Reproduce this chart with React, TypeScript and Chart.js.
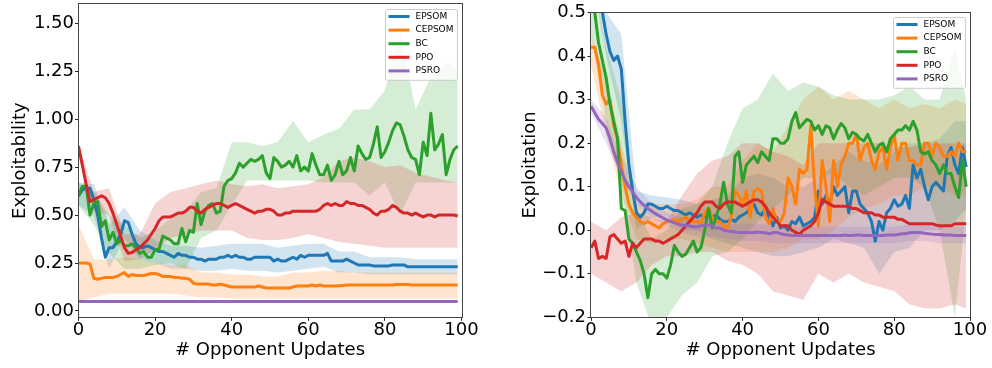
import React, { useEffect, useRef } from "react";
import { Chart, registerables } from "chart.js";

Chart.register(...registerables);

const FONT = "'DejaVu Sans', sans-serif";

const SERIES_NAMES = ["EPSOM", "CEPSOM", "BC", "PPO", "PSRO"];
const SERIES_COLORS = ["#1f77b4", "#ff7f0e", "#2ca02c", "#d62728", "#9467bd"];
const BAND_COLORS = [
  "rgba(31,119,180,0.2)",
  "rgba(255,127,14,0.2)",
  "rgba(44,160,44,0.2)",
  "rgba(214,39,40,0.2)",
  "rgba(148,103,189,0.2)",
];

const UPDATES = Array.from({ length: 100 }, (_, i) => i);
const BAND_X = [0, 4, 8, 12, 16, 20, 24, 28, 32, 36, 40, 44, 48, 52, 56, 60, 64, 68, 72, 76, 80, 84, 88, 92, 96, 99];
const X_TICKS = [0, 20, 40, 60, 80, 100];
const LEFT_Y_TICKS = [0, 0.25, 0.5, 0.75, 1.0, 1.25, 1.5];
const RIGHT_Y_TICKS = [-0.2, -0.1, 0, 0.1, 0.2, 0.3, 0.4, 0.5];

// ---------- Left panel: Exploitability ----------
const EPSOM_L = [
  0.60, 0.63, 0.64, 0.64, 0.58, 0.50, 0.38, 0.28, 0.33, 0.33,
  0.36, 0.40, 0.47, 0.46, 0.40, 0.35, 0.33, 0.33, 0.34, 0.33,
  0.32, 0.31, 0.31, 0.30, 0.29, 0.28, 0.30, 0.29, 0.29, 0.28,
  0.28, 0.27, 0.27, 0.26, 0.27, 0.27, 0.27, 0.28, 0.28, 0.29,
  0.28, 0.29, 0.28, 0.28, 0.27, 0.27, 0.28, 0.28, 0.28, 0.28,
  0.28, 0.26, 0.27, 0.26, 0.26, 0.27, 0.28, 0.27, 0.29, 0.28,
  0.29, 0.29, 0.29, 0.29, 0.29, 0.30, 0.26, 0.26, 0.26, 0.26,
  0.27, 0.26, 0.25, 0.24, 0.24, 0.24, 0.24, 0.235, 0.235, 0.235,
  0.235, 0.235, 0.24, 0.24, 0.24, 0.24, 0.23, 0.23, 0.23, 0.23,
  0.23, 0.23, 0.23, 0.23, 0.23, 0.23, 0.23, 0.23, 0.23, 0.23,
];
const CEPSOM_L = [
  0.25, 0.25, 0.25, 0.245, 0.17, 0.165, 0.17, 0.175, 0.175, 0.175,
  0.18, 0.19, 0.20, 0.18, 0.19, 0.185, 0.185, 0.185, 0.19, 0.195,
  0.195, 0.19, 0.18, 0.18, 0.18, 0.175, 0.175, 0.17, 0.17, 0.165,
  0.145, 0.14, 0.14, 0.14, 0.14, 0.135, 0.135, 0.14, 0.135, 0.13,
  0.125, 0.125, 0.125, 0.125, 0.125, 0.125, 0.125, 0.13, 0.125, 0.12,
  0.12, 0.12, 0.12, 0.12, 0.12, 0.12, 0.125, 0.13, 0.13, 0.13,
  0.13, 0.135, 0.13, 0.135, 0.13, 0.13, 0.13, 0.13, 0.132, 0.133,
  0.135, 0.135, 0.135, 0.135, 0.135, 0.135, 0.135, 0.135, 0.135, 0.135,
  0.135, 0.135, 0.135, 0.138, 0.138, 0.138, 0.138, 0.135, 0.135, 0.135,
  0.135, 0.135, 0.135, 0.135, 0.135, 0.135, 0.135, 0.135, 0.135, 0.135,
];
const BC_L = [
  0.60, 0.65, 0.65, 0.50, 0.56, 0.57, 0.44, 0.47, 0.37, 0.41,
  0.35, 0.37, 0.34, 0.34, 0.35, 0.33, 0.30, 0.31, 0.28, 0.28,
  0.32, 0.32, 0.39, 0.38, 0.37, 0.35, 0.35, 0.43, 0.36, 0.42,
  0.41, 0.56, 0.45, 0.52, 0.55, 0.56, 0.51, 0.52, 0.65, 0.68,
  0.69, 0.72, 0.77, 0.75, 0.77, 0.79, 0.78, 0.79, 0.81, 0.72,
  0.69, 0.80, 0.78, 0.75, 0.76, 0.78, 0.75, 0.81, 0.73, 0.75,
  0.73, 0.82, 0.76, 0.71, 0.71, 0.76, 0.68, 0.71, 0.78, 0.71,
  0.73, 0.80, 0.73, 0.86, 0.82, 0.79, 0.80, 0.87, 0.96, 0.80,
  0.83, 0.88, 0.94, 0.98, 0.97, 0.91, 0.84, 0.80, 0.79, 0.71,
  0.88, 0.81, 1.03, 0.84, 0.87, 0.92, 0.71, 0.79, 0.84, 0.86,
];
const PPO_L = [
  0.86, 0.76, 0.66, 0.57, 0.58, 0.59, 0.60, 0.59, 0.56, 0.51,
  0.45, 0.39, 0.33, 0.30, 0.305, 0.32, 0.33, 0.35, 0.37, 0.40,
  0.43, 0.47, 0.49, 0.49, 0.49, 0.50, 0.51, 0.51, 0.52, 0.54,
  0.54, 0.52, 0.51, 0.53, 0.54, 0.55, 0.56, 0.56, 0.55, 0.54,
  0.55, 0.56, 0.55, 0.54, 0.53, 0.52, 0.51, 0.52, 0.52, 0.53,
  0.53, 0.52, 0.50, 0.50, 0.51, 0.51, 0.52, 0.52, 0.52, 0.52,
  0.52, 0.52, 0.52, 0.53, 0.55, 0.56, 0.55, 0.56, 0.55, 0.55,
  0.57, 0.56, 0.56, 0.55, 0.55, 0.54, 0.53, 0.51, 0.50, 0.52,
  0.52, 0.53, 0.55, 0.54, 0.52, 0.51, 0.51, 0.50, 0.51, 0.50,
  0.49, 0.50, 0.50, 0.49, 0.50, 0.50, 0.50, 0.50, 0.50, 0.495,
];
const PSRO_L = [
  0.05, 0.05, 0.05, 0.05, 0.05, 0.05, 0.05, 0.05, 0.05, 0.05,
  0.05, 0.05, 0.05, 0.05, 0.05, 0.05, 0.05, 0.05, 0.05, 0.05,
  0.05, 0.05, 0.05, 0.05, 0.05, 0.05, 0.05, 0.05, 0.05, 0.05,
  0.05, 0.05, 0.05, 0.05, 0.05, 0.05, 0.05, 0.05, 0.05, 0.05,
  0.05, 0.05, 0.05, 0.05, 0.05, 0.05, 0.05, 0.05, 0.05, 0.05,
  0.05, 0.05, 0.05, 0.05, 0.05, 0.05, 0.05, 0.05, 0.05, 0.05,
  0.05, 0.05, 0.05, 0.05, 0.05, 0.05, 0.05, 0.05, 0.05, 0.05,
  0.05, 0.05, 0.05, 0.05, 0.05, 0.05, 0.05, 0.05, 0.05, 0.05,
  0.05, 0.05, 0.05, 0.05, 0.05, 0.05, 0.05, 0.05, 0.05, 0.05,
  0.05, 0.05, 0.05, 0.05, 0.05, 0.05, 0.05, 0.05, 0.05, 0.05,
];

// bands (lower / upper) at BAND_X
const EPSOM_L_LO = [0.55, 0.50, 0.22, 0.38, 0.27, 0.25, 0.22, 0.22, 0.21, 0.21, 0.22, 0.21, 0.21, 0.20, 0.21, 0.22, 0.23, 0.20, 0.20, 0.19, 0.19, 0.19, 0.19, 0.19, 0.19, 0.19];
const EPSOM_L_HI = [0.67, 0.66, 0.45, 0.54, 0.42, 0.37, 0.34, 0.34, 0.33, 0.34, 0.35, 0.35, 0.35, 0.33, 0.34, 0.35, 0.35, 0.31, 0.31, 0.28, 0.28, 0.28, 0.27, 0.27, 0.27, 0.27];
const CEPSOM_L_LO = [0.05, 0.07, 0.09, 0.09, 0.09, 0.09, 0.09, 0.08, 0.07, 0.07, 0.065, 0.065, 0.065, 0.065, 0.065, 0.065, 0.065, 0.065, 0.065, 0.065, 0.065, 0.065, 0.065, 0.065, 0.065, 0.065];
const CEPSOM_L_HI = [0.45, 0.27, 0.27, 0.28, 0.27, 0.25, 0.24, 0.24, 0.20, 0.20, 0.19, 0.19, 0.18, 0.18, 0.20, 0.20, 0.21, 0.21, 0.20, 0.20, 0.20, 0.20, 0.20, 0.20, 0.20, 0.20];
const BC_L_LO = [0.55, 0.45, 0.30, 0.22, 0.22, 0.24, 0.25, 0.22, 0.38, 0.42, 0.55, 0.68, 0.68, 0.68, 0.68, 0.68, 0.67, 0.67, 0.67, 0.60, 0.67, 0.50, 0.67, 0.67, 0.67, 0.67];
const BC_L_HI = [0.67, 0.62, 0.50, 0.45, 0.38, 0.42, 0.48, 0.52, 0.62, 0.64, 0.88, 0.88, 0.86, 0.88, 0.99, 0.88, 0.92, 0.95, 1.05, 1.05, 1.15, 1.45, 1.05, 1.22, 1.30, 1.25];
const PPO_L_LO = [0.85, 0.52, 0.50, 0.26, 0.27, 0.32, 0.38, 0.40, 0.42, 0.42, 0.42, 0.38, 0.37, 0.37, 0.38, 0.40, 0.38, 0.36, 0.35, 0.34, 0.33, 0.33, 0.33, 0.33, 0.33, 0.33];
const PPO_L_HI = [0.87, 0.62, 0.64, 0.40, 0.40, 0.56, 0.62, 0.64, 0.66, 0.68, 0.66, 0.65, 0.66, 0.64, 0.65, 0.66, 0.70, 0.78, 0.80, 0.78, 0.75, 0.76, 0.72, 0.70, 0.68, 0.67];

// ---------- Right panel: Exploitation ----------
const EPSOM_R = [
  0.62, 0.58, 0.54, 0.50, 0.45, 0.41, 0.39, 0.40, 0.37, 0.25,
  0.15, 0.09, 0.04, 0.03, 0.04, 0.06, 0.06, 0.055, 0.05, 0.05,
  0.055, 0.05, 0.045, 0.045, 0.04, 0.035, 0.04, 0.035, 0.03, 0.035,
  0.03, 0.035, 0.03, 0.035, 0.025, 0.02, 0.02, 0.025, 0.02, 0.03,
  0.035, 0.04, 0.05, 0.06, 0.04, 0.035, 0.05, 0.03, 0.01, 0.03,
  0.005, 0.01, 0.0, 0.02, 0.015, 0.03, 0.01, 0.015, 0.02, 0.03,
  0.09, 0.06, 0.08, 0.06, 0.10, 0.08, 0.09, 0.10, 0.04, 0.09,
  0.09, 0.06, 0.05, 0.04, 0.02, -0.025, 0.02, 0.0, 0.04, 0.05,
  0.07, 0.055, 0.06, 0.08, 0.05, 0.15, 0.12, 0.14, 0.10, 0.07,
  0.10, 0.11, 0.10, 0.09, 0.17, 0.19, 0.15, 0.13, 0.19, 0.145,
];
const CEPSOM_R = [
  0.42, 0.42, 0.38, 0.31, 0.29, 0.30, 0.24, 0.21, 0.15, 0.10,
  0.06, 0.04, 0.03, 0.02, 0.015, 0.02, 0.015, 0.01, 0.005, 0.015,
  0.02, 0.02, 0.025, 0.02, 0.025, 0.03, 0.02, 0.02, 0.02, 0.015,
  0.04, 0.05, 0.03, 0.02, 0.02, 0.01, 0.005, 0.03, 0.09, 0.08,
  0.06, 0.09, 0.03, 0.09, 0.095, 0.09, 0.03, 0.015, 0.05, 0.02,
  0.02, 0.04, 0.12, 0.10, 0.06, 0.14, 0.13, 0.14, 0.24, 0.10,
  0.01, 0.16, 0.10, 0.02, 0.16, 0.10, 0.15, 0.17, 0.20, 0.20,
  0.22, 0.16, 0.19, 0.20, 0.16, 0.14, 0.18, 0.19, 0.14, 0.19,
  0.22, 0.16, 0.20, 0.20, 0.16, 0.16, 0.15, 0.15, 0.20, 0.20,
  0.17, 0.20, 0.19, 0.17, 0.17, 0.18, 0.17, 0.20, 0.18, 0.18,
];
const BC_R = [
  0.60, 0.50, 0.43, 0.39, 0.35, 0.29, 0.25, 0.21, 0.05, 0.045,
  -0.02, -0.03, -0.05, -0.07, -0.10, -0.155, -0.10, -0.09, -0.10, -0.10,
  -0.11, -0.08, -0.035, -0.05, -0.06, -0.055, -0.04, -0.025, -0.05, -0.04,
  0.0, 0.05, 0.005, 0.03, 0.06, 0.11, 0.06, 0.04, 0.17, 0.18,
  0.11, 0.15, 0.16, 0.17, 0.155, 0.18, 0.17, 0.16, 0.21, 0.21,
  0.20, 0.20, 0.21, 0.25, 0.27, 0.235, 0.245, 0.255, 0.25, 0.23,
  0.24, 0.22, 0.24, 0.235, 0.21, 0.23, 0.245, 0.235, 0.21, 0.225,
  0.22, 0.21, 0.205, 0.22, 0.20, 0.18, 0.195, 0.20, 0.18, 0.21,
  0.22, 0.23, 0.23, 0.24, 0.23, 0.25, 0.23, 0.18, 0.175, 0.18,
  0.16, 0.15, 0.13, 0.15, 0.13, 0.13, 0.10, 0.075, 0.16, 0.10,
];
const PPO_R = [
  -0.04, -0.025, -0.065, -0.06, -0.065, -0.015, -0.01, -0.02, -0.03, -0.025,
  -0.06, -0.03, -0.04, -0.03, -0.02, -0.02, -0.02, -0.025, -0.025, -0.03,
  -0.025, -0.02, -0.015, -0.01, 0.0, 0.01, 0.02, 0.03, 0.04, 0.055,
  0.065, 0.065, 0.065, 0.055, 0.05, 0.06, 0.065, 0.065, 0.065, 0.06,
  0.055, 0.06, 0.065, 0.07, 0.07, 0.065, 0.055, 0.04, 0.03, 0.02,
  0.01, 0.01, 0.01, 0.0, -0.005, -0.01, 0.0, 0.005, 0.01, 0.02,
  0.04, 0.07, 0.065, 0.06, 0.055, 0.055, 0.055, 0.055, 0.055, 0.05,
  0.05, 0.045, 0.04, 0.04, 0.04, 0.035, 0.035, 0.03, 0.03, 0.03,
  0.03, 0.025, 0.025, 0.02, 0.015, 0.015, 0.015, 0.015, 0.015, 0.015,
  0.015, 0.012, 0.01, 0.01, 0.01, 0.01, 0.015, 0.015, 0.015, 0.015,
];
const PSRO_R = [
  0.285, 0.27, 0.255, 0.245, 0.235, 0.21, 0.18, 0.155, 0.135, 0.115,
  0.10, 0.088, 0.075, 0.065, 0.057, 0.05, 0.044, 0.038, 0.033, 0.028,
  0.024, 0.02, 0.017, 0.014, 0.012, 0.01, 0.01, 0.008, 0.008, 0.01,
  0.012, 0.012, 0.01, 0.005, 0.005, 0.0, -0.002, -0.003, -0.004, -0.005,
  -0.005, -0.005, -0.006, -0.005, -0.004, -0.005, -0.006, -0.008, -0.006, -0.005,
  -0.008, -0.01, -0.011, -0.012, -0.012, -0.012, -0.012, -0.012, -0.012, -0.012,
  -0.012, -0.012, -0.012, -0.012, -0.012, -0.012, -0.012, -0.011, -0.012, -0.012,
  -0.011, -0.011, -0.012, -0.012, -0.012, -0.012, -0.012, -0.012, -0.011, -0.011,
  -0.011, -0.01, -0.008, -0.008, -0.006, -0.005, -0.005, -0.006, -0.007, -0.008,
  -0.009, -0.01, -0.01, -0.011, -0.011, -0.011, -0.012, -0.012, -0.012, -0.012,
];

const EPSOM_R_LO = [0.60, 0.40, 0.25, 0.00, 0.03, 0.03, 0.00, 0.00, -0.02, -0.03, -0.04, -0.05, -0.06, -0.06, -0.05, -0.04, -0.02, -0.03, -0.04, -0.10, -0.05, -0.04, 0.00, 0.00, 0.02, 0.05];
const EPSOM_R_HI = [0.70, 0.50, 0.45, 0.09, 0.08, 0.075, 0.07, 0.06, 0.07, 0.08, 0.12, 0.13, 0.12, 0.10, 0.10, 0.12, 0.15, 0.18, 0.16, 0.15, 0.18, 0.20, 0.20, 0.21, 0.25, 0.25];
const CEPSOM_R_LO = [0.38, 0.22, 0.08, -0.02, -0.03, -0.02, -0.02, -0.03, -0.04, -0.05, -0.05, -0.05, -0.05, -0.04, -0.02, -0.02, 0.00, 0.03, 0.05, 0.06, 0.08, 0.08, 0.10, 0.10, 0.08, 0.08];
const CEPSOM_R_HI = [0.45, 0.35, 0.20, 0.06, 0.06, 0.06, 0.06, 0.07, 0.10, 0.10, 0.16, 0.20, 0.18, 0.24, 0.30, 0.33, 0.30, 0.32, 0.30, 0.28, 0.30, 0.28, 0.29, 0.28, 0.30, 0.29];
const BC_R_LO = [0.45, 0.25, 0.10, -0.12, -0.22, -0.20, -0.15, -0.12, -0.06, -0.05, -0.02, 0.02, 0.05, 0.08, 0.12, 0.12, 0.13, 0.10, 0.08, 0.10, 0.12, 0.12, 0.10, 0.00, -0.20, 0.05];
const BC_R_HI = [0.60, 0.42, 0.30, 0.05, -0.02, 0.00, 0.05, 0.06, 0.10, 0.20, 0.28, 0.30, 0.36, 0.32, 0.34, 0.33, 0.31, 0.30, 0.30, 0.30, 0.31, 0.33, 0.30, 0.30, 0.42, 0.30];
const PPO_R_LO = [-0.10, -0.12, -0.14, -0.12, -0.08, -0.06, -0.06, -0.05, -0.05, -0.07, -0.08, -0.10, -0.14, -0.15, -0.16, -0.10, -0.12, -0.10, -0.12, -0.13, -0.14, -0.17, -0.18, -0.18, -0.17, -0.18];
const PPO_R_HI = [0.02, 0.00, 0.03, 0.04, 0.03, 0.02, 0.08, 0.13, 0.16, 0.17, 0.20, 0.20, 0.18, 0.17, 0.15, 0.20, 0.20, 0.20, 0.20, 0.20, 0.19, 0.19, 0.20, 0.20, 0.20, 0.20];
const PSRO_R_LO = [0.27, 0.20, 0.12, 0.06, 0.03, 0.01, -0.005, -0.015, -0.015, -0.02, -0.025, -0.025, -0.03, -0.03, -0.03, -0.03, -0.03, -0.03, -0.03, -0.03, -0.03, -0.025, -0.025, -0.03, -0.03, -0.03];
const PSRO_R_HI = [0.30, 0.26, 0.17, 0.10, 0.06, 0.04, 0.03, 0.025, 0.025, 0.015, 0.015, 0.015, 0.01, 0.008, 0.008, 0.008, 0.008, 0.008, 0.008, 0.008, 0.008, 0.012, 0.012, 0.008, 0.008, 0.008];

type PanelSpec = {
  offsetX: number;
  yTitle: string;
  yMin: number;
  yMax: number;
  yTicks: number[];
  fmt: (v: number) => string;
  means: number[][];
  lows: (number[] | null)[];
  highs: (number[] | null)[];
  yAxisWidth: number;
  padRight: number;
  padTop: number;
  yTitlePad: number;
  yTickPad: number;
  legendRight: number;
  legendTop: number;
};

const W = 496;
const H = 368;
const PLOT_BOTTOM = 317.3;

const PANELS: PanelSpec[] = [
  {
    offsetX: 0,
    yTitle: "Exploitability",
    yMin: -0.033,
    yMax: 1.6,
    yTicks: LEFT_Y_TICKS,
    fmt: (v) => v.toFixed(2),
    means: [EPSOM_L, CEPSOM_L, BC_L, PPO_L, PSRO_L],
    lows: [EPSOM_L_LO, CEPSOM_L_LO, BC_L_LO, PPO_L_LO, null],
    highs: [EPSOM_L_HI, CEPSOM_L_HI, BC_L_HI, PPO_L_HI, null],
    yAxisWidth: 78.5,
    padRight: 34.5,
    padTop: 4,
    yTitlePad: 9.9,
    yTickPad: 1,
    legendRight: 4.5,
    legendTop: 5,
  },
  {
    offsetX: 496,
    yTitle: "Exploitation",
    yMin: -0.2,
    yMax: 0.5,
    yTicks: RIGHT_Y_TICKS,
    fmt: (v) => (v < -1e-9 ? "\u2212" : "") + Math.abs(v).toFixed(1),
    means: [EPSOM_R, CEPSOM_R, BC_R, PPO_R, PSRO_R],
    lows: [EPSOM_R_LO, CEPSOM_R_LO, BC_R_LO, PPO_R_LO, PSRO_R_LO],
    highs: [EPSOM_R_HI, CEPSOM_R_HI, BC_R_HI, PPO_R_HI, PSRO_R_HI],
    yAxisWidth: 95,
    padRight: 22,
    padTop: 12.5,
    yTitlePad: 23.2,
    yTickPad: 1.5,
    legendRight: 5,
    legendTop: 4.5,
  },
];

function makeFramePlugin() {
  return {
    id: "frame",
    afterDatasetsDraw(chart: any) {
      const { ctx, chartArea: a } = chart;
      ctx.save();
      ctx.strokeStyle = "#444";
      ctx.lineWidth = 1;
      const l = Math.round(a.left) - 0.5;
      const t = Math.round(a.top) - 0.5;
      const r = Math.round(a.right) + 0.5;
      const b = Math.round(a.bottom) + 0.5;
      ctx.strokeRect(l, t, r - l, b - t);
      ctx.restore();
    },
  };
}

function makeLegendPlugin(spec: PanelSpec) {
  return {
    id: "boxLegend",
    afterDraw(chart: any) {
      const { ctx, chartArea: a } = chart;
      ctx.save();
      ctx.font = `9px ${FONT}`;
      const textW = Math.max(...SERIES_NAMES.map((n) => ctx.measureText(n).width));
      const w = 30 + textW + 4;
      const rowH = 13.6;
      const h = 7 + 4 * rowH + 9.4;
      const x0 = Math.round(a.right - spec.legendRight - w) + 0.5;
      const y0 = Math.round(a.top + spec.legendTop) + 0.5;
      ctx.beginPath();
      if ((ctx as any).roundRect) (ctx as any).roundRect(x0, y0, w, h, 2);
      else ctx.rect(x0, y0, w, h);
      ctx.fillStyle = "rgba(255,255,255,0.8)";
      ctx.fill();
      ctx.strokeStyle = "#cccccc";
      ctx.lineWidth = 1;
      ctx.stroke();
      SERIES_NAMES.forEach((name, i) => {
        const cy = y0 + 7 + i * rowH;
        ctx.beginPath();
        ctx.strokeStyle = SERIES_COLORS[i];
        ctx.lineWidth = 3;
        ctx.moveTo(x0 + 3, cy);
        ctx.lineTo(x0 + 24, cy);
        ctx.stroke();
        ctx.fillStyle = "#000";
        ctx.textBaseline = "middle";
        ctx.textAlign = "left";
        ctx.fillText(name, x0 + 30, cy);
      });
      ctx.restore();
    },
  };
}

function buildDatasets(spec: PanelSpec) {
  const bands: any[] = [];
  const lines: any[] = [];
  // Bands below all lines (matplotlib fill_between zorder 1 < line zorder 2)
  SERIES_NAMES.forEach((name, i) => {
    const lo = spec.lows[i];
    const hi = spec.highs[i];
    if (lo && hi) {
      bands.push({
        label: name + " lower",
        data: BAND_X.map((x, j) => ({ x, y: lo[j] })),
        borderWidth: 0,
        borderColor: "rgba(0,0,0,0)",
        pointRadius: 0,
        fill: false,
        tension: 0,
      });
      bands.push({
        label: name + " upper",
        data: BAND_X.map((x, j) => ({ x, y: hi[j] })),
        borderWidth: 0,
        borderColor: "rgba(0,0,0,0)",
        backgroundColor: BAND_COLORS[i],
        pointRadius: 0,
        fill: "-1",
        tension: 0,
      });
    }
  });
  SERIES_NAMES.forEach((name, i) => {
    lines.push({
      label: name,
      data: UPDATES.map((x, j) => ({ x, y: spec.means[i][j] })),
      borderColor: SERIES_COLORS[i],
      backgroundColor: SERIES_COLORS[i],
      borderWidth: 3,
      borderJoinStyle: "round",
      pointRadius: 0,
      fill: false,
      tension: 0,
      clip: 0,
    });
  });
  const all = [...bands, ...lines];
  all.forEach((d, k) => {
    d.order = 1000 - k;
  });
  return all;
}

function Panel({ spec }: { spec: PanelSpec }) {
  const ref = useRef<HTMLCanvasElement | null>(null);
  useEffect(() => {
    if (!ref.current) return;
    const tickFont = { family: FONT, size: 18 };
    const chart = new Chart(ref.current, {
      type: "line",
      data: { datasets: buildDatasets(spec) },
      options: {
        responsive: false,
        animation: false,
        events: [],
        layout: { padding: { left: 0, right: spec.padRight, top: spec.padTop, bottom: 0 } },
        plugins: { legend: { display: false }, tooltip: { enabled: false } },
        scales: {
          x: {
            type: "linear",
            min: 0,
            max: 100,
            afterBuildTicks: (s: any) => {
              s.ticks = X_TICKS.map((v) => ({ value: v }));
            },
            afterFit: (s: any) => {
              s.height = H - PLOT_BOTTOM;
              s.paddingLeft = 0;
              s.paddingRight = 0;
            },
            ticks: {
              color: "#000",
              font: tickFont,
              padding: -1.5,
              maxRotation: 0,
              autoSkip: false,
              callback: (v: any) => String(v),
            },
            grid: { display: true, drawOnChartArea: false, drawTicks: true, tickLength: 3.5, color: "#222" },
            border: { display: false },
            title: {
              display: true,
              text: "# Opponent Updates",
              color: "#000",
              font: tickFont,
              padding: { top: 0, bottom: 7.2 },
            },
          },
          y: {
            type: "linear",
            min: spec.yMin,
            max: spec.yMax,
            afterBuildTicks: (s: any) => {
              s.ticks = spec.yTicks.map((v) => ({ value: v }));
            },
            afterFit: (s: any) => {
              s.width = spec.yAxisWidth;
              s.paddingTop = 0;
              s.paddingBottom = 0;
            },
            ticks: {
              color: "#000",
              font: tickFont,
              padding: spec.yTickPad,
              autoSkip: false,
              callback: (v: any) => spec.fmt(Number(v)),
            },
            grid: { display: true, drawOnChartArea: false, drawTicks: true, tickLength: 3.5, color: "#222" },
            border: { display: false },
            title: {
              display: true,
              text: spec.yTitle,
              color: "#000",
              font: tickFont,
              padding: { top: spec.yTitlePad, bottom: 0 },
            },
          },
        },
      } as any,
      plugins: [makeFramePlugin(), makeLegendPlugin(spec)],
    });
    return () => chart.destroy();
  }, [spec]);
  return (
    <canvas
      ref={ref}
      width={W}
      height={H}
      style={{ position: "absolute", left: spec.offsetX, top: 0, width: W, height: H }}
    />
  );
}

export default function App() {
  return (
    <div style={{ position: "absolute", left: 0, top: 0, width: 992, height: 368, background: "#fff" }}>
      {PANELS.map((p) => (
        <Panel key={p.yTitle} spec={p} />
      ))}
    </div>
  );
}
